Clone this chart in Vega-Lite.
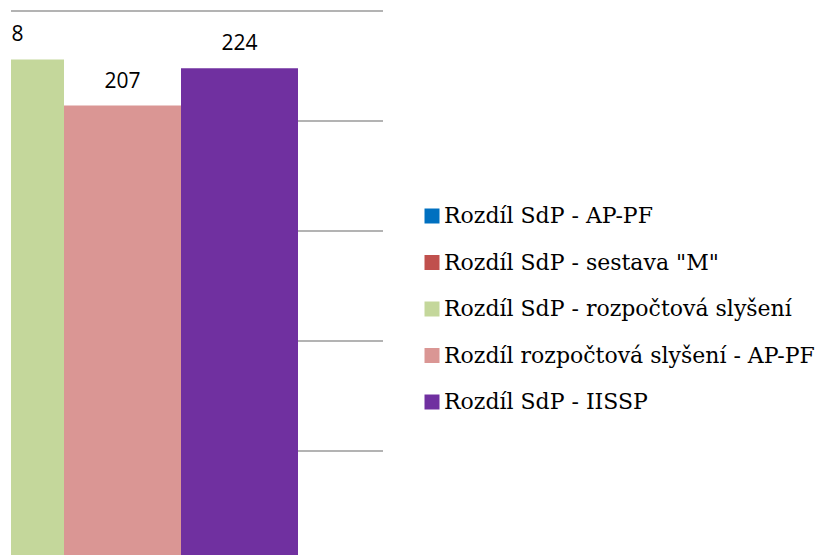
{
  "$schema": "https://vega.github.io/schema/vega-lite/v6.json",
  "width": 372,
  "height": 550,
  "autosize": "none",
  "padding": {"left": 11, "top": 11, "right": 438, "bottom": 0},
  "background": "white",
  "config": {
    "view": {"stroke": null}
  },
  "layer": [
    {
      "data": {"values": [{"grid": 50}, {"grid": 100}, {"grid": 150}, {"grid": 200}, {"grid": 250}]},
      "mark": {"type": "rule", "color": "#9a9a9a", "strokeWidth": 1.5},
      "encoding": {
        "y": {"field": "grid", "type": "quantitative", "scale": {"domain": [0, 250], "nice": false}, "axis": null}
      }
    },
    {
      "data": {
        "values": [
          {"series": "Rozdíl SdP - rozpočtová slyšení", "value": 228},
          {"series": "Rozdíl rozpočtová slyšení - AP-PF", "value": 207},
          {"series": "Rozdíl SdP - IISSP", "value": 224}
        ]
      },
      "encoding": {
        "x": {
          "field": "series",
          "type": "nominal",
          "sort": null,
          "scale": {
            "domain": ["Rozdíl SdP - AP-PF", "Rozdíl SdP - sestava \"M\"", "Rozdíl SdP - rozpočtová slyšení", "Rozdíl rozpočtová slyšení - AP-PF", "Rozdíl SdP - IISSP"],
            "range": [-298, 287],
            "paddingInner": 0,
            "paddingOuter": 0
          },
          "axis": null
        },
        "y": {"field": "value", "type": "quantitative", "axis": null}
      },
      "layer": [
        {
          "mark": {"type": "bar", "clip": true},
          "encoding": {
            "color": {
              "field": "series",
              "type": "nominal",
              "scale": {
                "domain": ["Rozdíl SdP - AP-PF", "Rozdíl SdP - sestava \"M\"", "Rozdíl SdP - rozpočtová slyšení", "Rozdíl rozpočtová slyšení - AP-PF", "Rozdíl SdP - IISSP"],
                "range": ["#0070C0", "#C0504D", "#C4D79B", "#DA9694", "#7030A0"]
              },
              "legend": {
                "title": null,
                "orient": "none",
                "legendX": 410,
                "legendY": 194,
                "symbolType": "square",
                "symbolSize": 225,
                "symbolStrokeWidth": 0,
                "labelFont": "DejaVu Serif",
                "labelFontSize": 22,
                "labelColor": "black",
                "labelLimit": 500,
                "labelOffset": 1,
                "rowPadding": 24.5,
                "padding": 0
              }
            }
          }
        },
        {
          "mark": {"type": "text", "clip": true, "baseline": "alphabetic", "dy": -18, "font": "Open Sans", "fontSize": 21, "color": "black"},
          "encoding": {"text": {"field": "value", "type": "quantitative"}}
        }
      ]
    }
  ]
}
